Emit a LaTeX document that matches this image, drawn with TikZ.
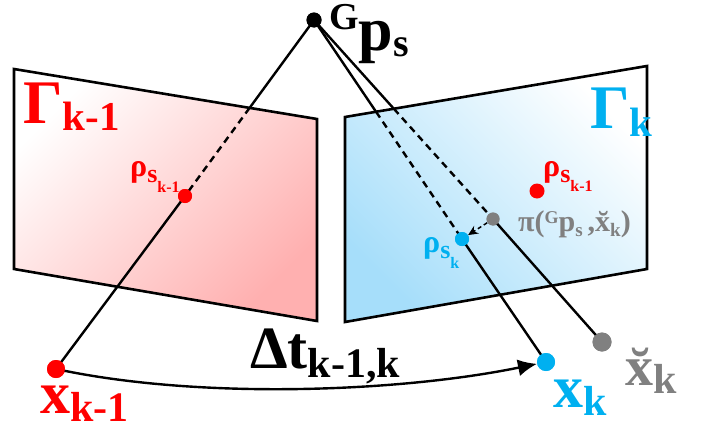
\documentclass[tikz,border=0pt]{standalone}
\usepackage{fontspec}
\setmainfont{Liberation Serif}
\usetikzlibrary{arrows.meta}

\definecolor{camRed}{RGB}{255,0,0}
\definecolor{camBlue}{RGB}{0,176,240}
\definecolor{camGray}{RGB}{128,128,128}
\definecolor{planeRed}{RGB}{255,176,176}
\definecolor{planeBlue}{RGB}{166,222,250}
\newcommand\setfs[1]{\fontsize{#1}{#1}\selectfont}
% lowered / raised index: drop (pt), size (pt), text
\newcommand\lo[3]{\raisebox{-#1pt}{\setfs{#2}#3}}
\newcommand\hi[3]{\raisebox{#1pt}{\setfs{#2}#3}}

\tikzset{
  dot/.style={circle,fill,inner sep=0pt,minimum size=#1},
  ray/.style={line width=2.4pt},
  hidden/.style={ray,dash pattern=on 7pt off 5pt},
  plane/.style={line width=2.6pt},
  lbl/.style={inner sep=0pt,anchor=base west,font=\bfseries}
}

\begin{document}
\begin{tikzpicture}[x=1pt,y=-1pt]
\path[use as bounding box] (0,0) rectangle (706,431);
% image planes
\coordinate (LTL) at (14,69);
\coordinate (LTR) at (317,119);
\coordinate (LBR) at (317,321);
\coordinate (LBL) at (14,269);
\coordinate (RTL) at (345,117);
\coordinate (RTR) at (647,66);
\coordinate (RBR) at (647,269);
\coordinate (RBL) at (345,322);
\shadedraw[plane,top color=white,bottom color=planeRed,shading angle=45] (LTL) -- (LTR) -- (LBR) -- (LBL) -- cycle;
\shadedraw[plane,top color=white,bottom color=planeBlue,shading angle=-45] (RTL) -- (RTR) -- (RBR) -- (RBL) -- cycle;

% points
\node[dot=15pt] (Gp) at (314,20) {};
\node[dot=18pt,camRed] (xprev) at (56,369) {};
\node[dot=18pt,camBlue] (xcur) at (546,362) {};
\node[dot=19pt,camGray] (xpred) at (602,342) {};
\node[dot=14pt,camRed] (rhoL) at (185,196) {};
\node[dot=15pt,camRed] (rhoR) at (537,191) {};
\node[dot=14pt,camBlue] (rhoK) at (462,239) {};
\node[dot=13pt,camGray] (proj) at (493,219) {};

\coordinate (eL) at (intersection of Gp.center--rhoL.center and LTL--LTR);
\coordinate (eK) at (intersection of Gp.center--rhoK.center and RTL--RTR);
\coordinate (eP) at (intersection of Gp.center--proj.center and RTL--RTR);

% rays
\draw[ray] (Gp.center) -- (eL);
\draw[hidden] (eL) -- (rhoL.center);
\draw[ray] (rhoL.center) -- (xprev.center);
\draw[ray] (Gp.center) -- (eK);
\draw[hidden] (eK) -- (rhoK.center);
\draw[ray] (rhoK.center) -- (xcur.center);
\draw[ray] (Gp.center) -- (eP);
\draw[hidden] (eP) -- (proj.center);
\draw[ray] (proj.center) -- (xpred.center);
\draw[line width=1.5pt,dash pattern=on 4pt off 3pt,-{Stealth[length=10pt,width=9pt]}] (proj.center) -- (rhoK);
\draw[ray,-{Latex[length=19pt,width=17pt]}] (xprev.center) .. controls (200,400) and (400,392) .. (xcur);

% dots again, above the rays
\fill (Gp) circle (7.5pt);
\fill[camRed] (xprev) circle (9pt);
\fill[camBlue] (xcur) circle (9pt);
\fill[camGray] (xpred) circle (9.5pt);
\fill[camRed] (rhoL) circle (7pt);
\fill[camBlue] (rhoK) circle (7pt);
\fill[camGray] (proj) circle (6.5pt);

% labels
\node[lbl,text=camRed] (GammaPrev) at (23,123) {\setfs{62}Γ\lo{7}{41}{k-1}};
\node[lbl,text=camBlue] (GammaCur) at (590,128) {\setfs{62}Γ\lo{8}{41}{k}};
\node[lbl] (GpLbl) at (329,50) {\setfs{62}\hi{21}{38}{G}p\lo{6}{40}{s}};
\node[lbl,text=camRed] (rhoLLbl) at (130,176) {\setfs{32}ρ\lo{6}{26}{s}\lo{16}{16}{k-1}};
\node[lbl,text=camRed] (rhoRLbl) at (543,176) {\setfs{32}ρ\lo{6}{26}{s}\lo{15}{16}{k-1}};
\node[lbl,text=camBlue] (rhoKLbl) at (423,252) {\setfs{32}ρ\lo{6}{26}{s}\lo{16}{16}{k}};
\node[lbl,text=camGray] (projLbl) at (518,231) {\setfs{30}π(\hi{8}{18}{G}p\lo{5}{19}{s}\,,x̆\lo{5}{19}{k})};
\node[lbl,text=camRed] (xprevLbl) at (40,413) {\setfs{60}x\lo{8}{42}{k-1}};
\node[lbl] (dtLbl) at (250,368) {\setfs{60}Δt\lo{9}{42}{k-1,k}};
\node[lbl,text=camBlue] (xcurLbl) at (553,407) {\setfs{60}x\lo{8}{42}{k}};
\node[lbl,text=camGray] (xpredLbl) at (625,385) {\setfs{56}x̆\lo{8}{42}{k}};
\end{tikzpicture}
\end{document}
